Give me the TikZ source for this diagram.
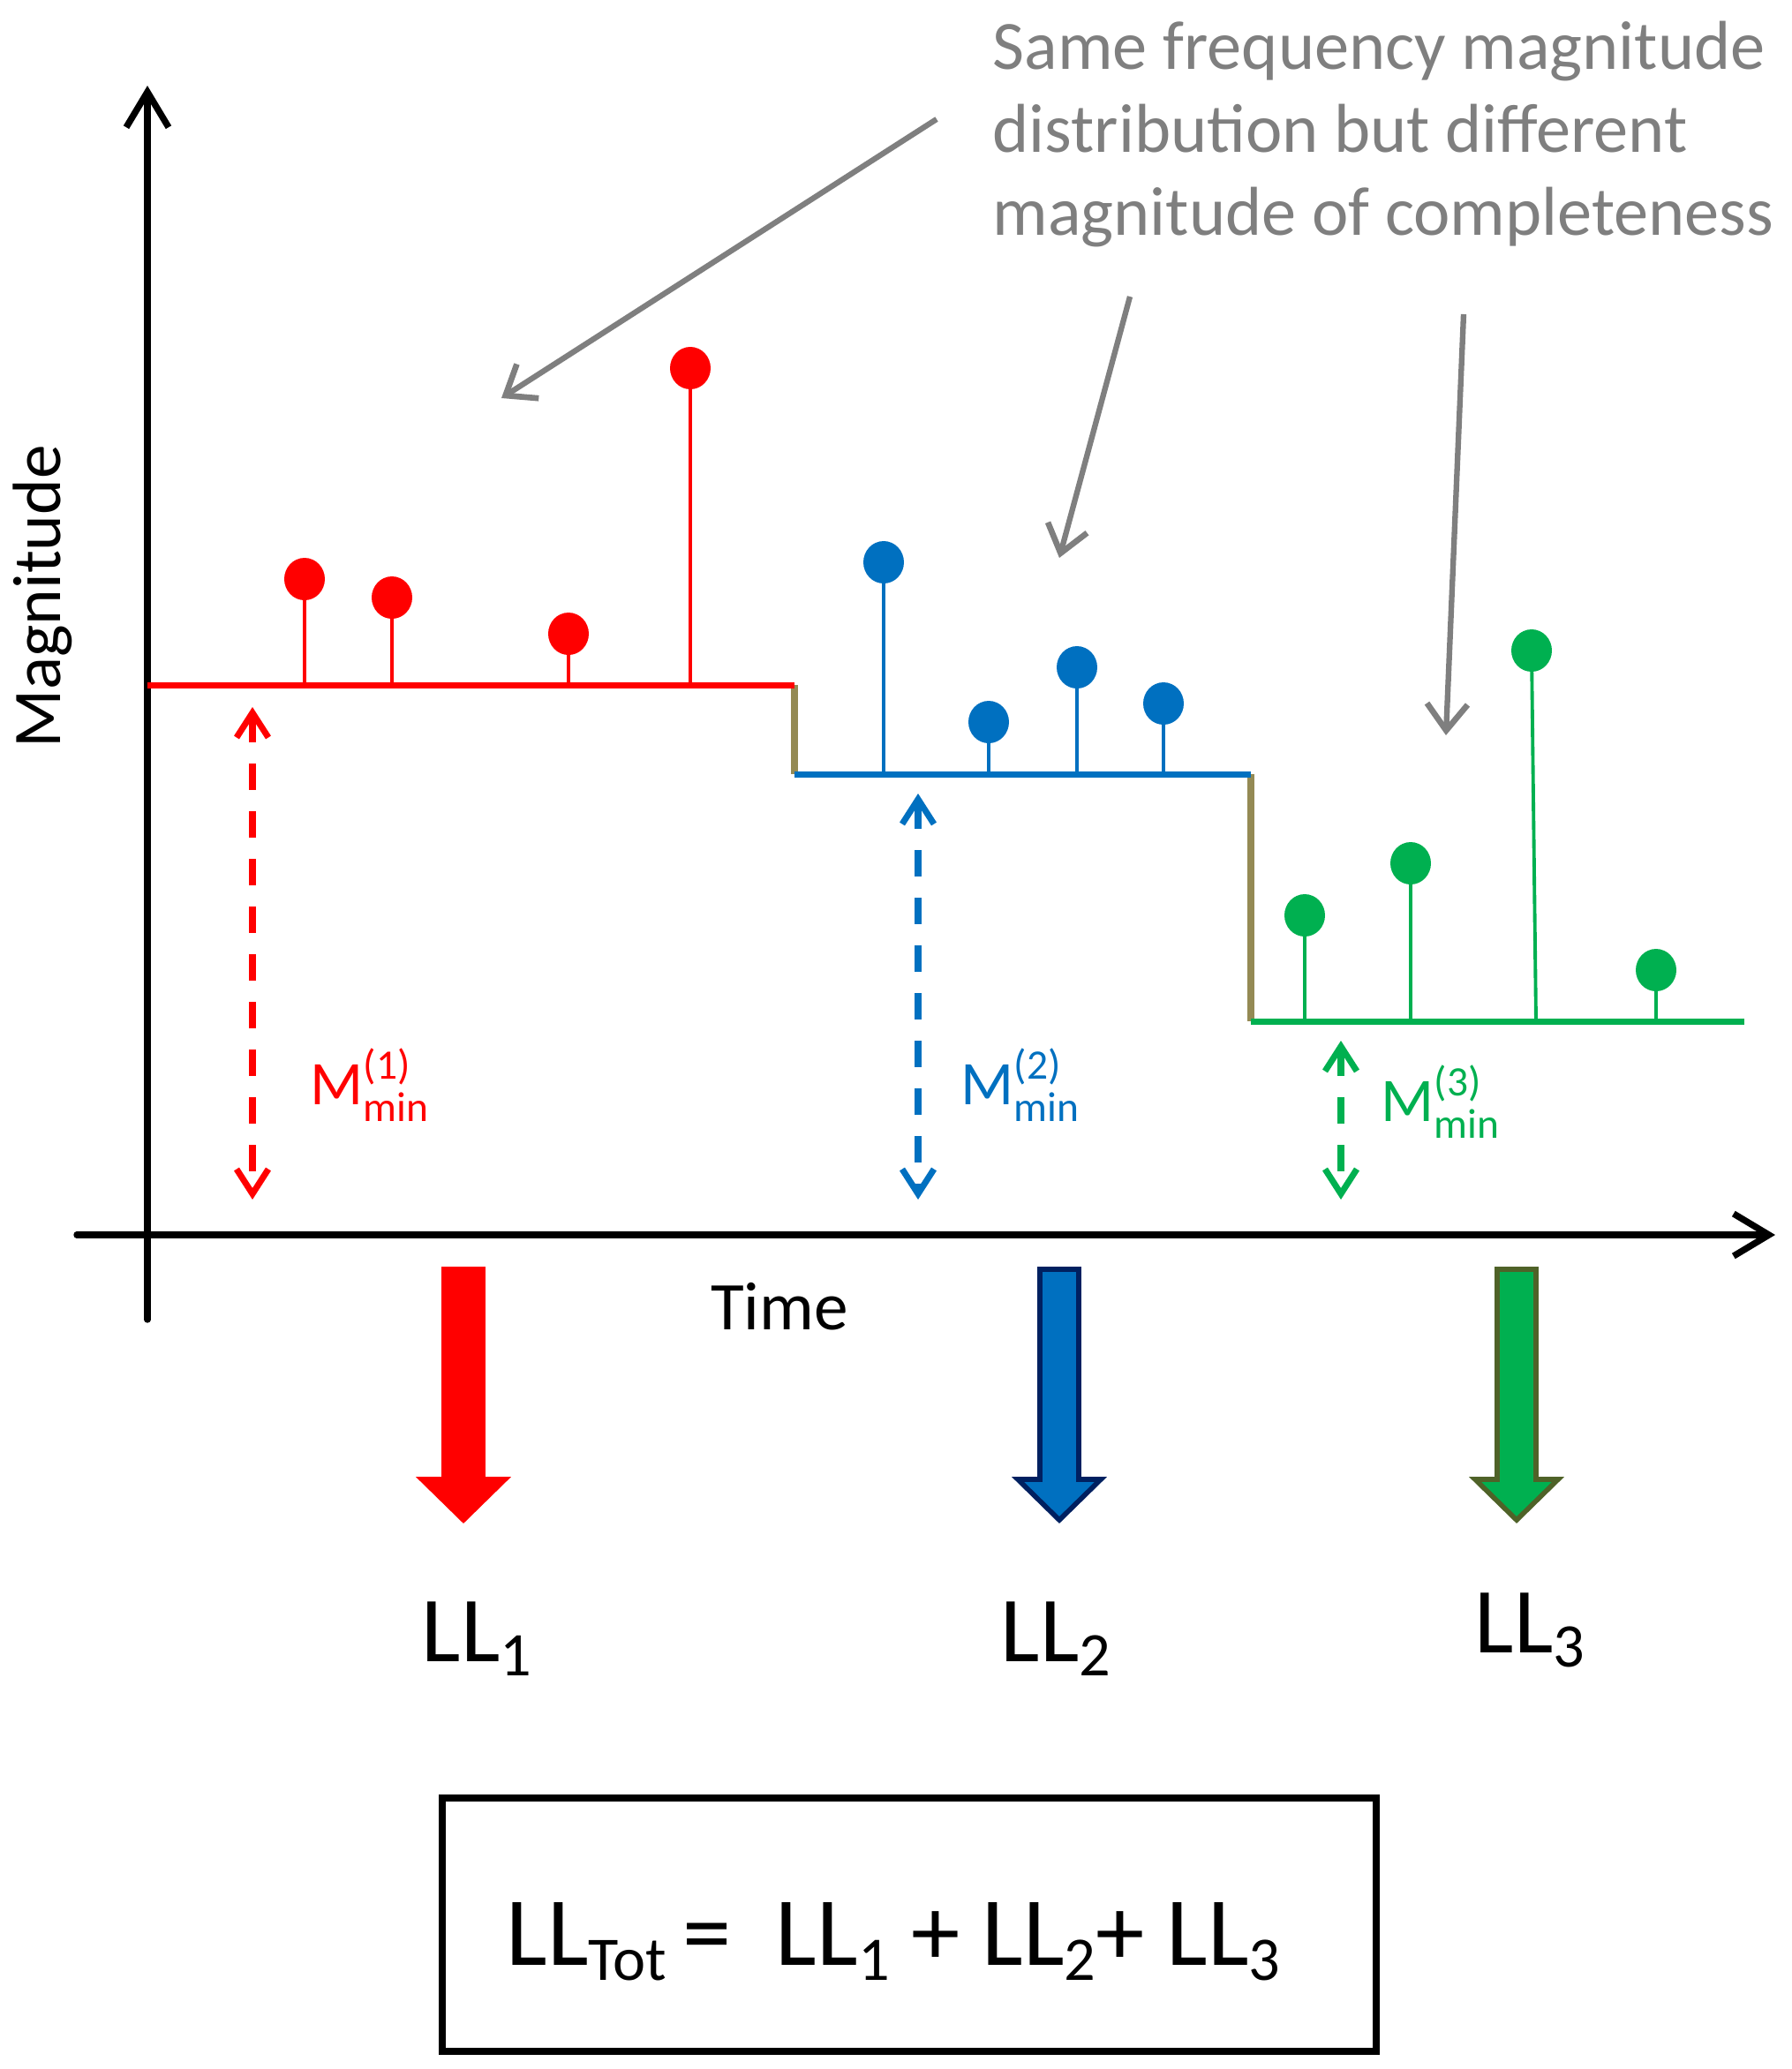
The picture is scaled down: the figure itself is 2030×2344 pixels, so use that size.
\documentclass[tikz,border=0pt]{standalone}
\usepackage{fontspec}
\setmainfont{Carlito}
\usetikzlibrary{arrows.meta}
\definecolor{cred}{HTML}{FF0000}
\definecolor{cblue}{HTML}{0070C0}
\definecolor{cgreen}{HTML}{00B050}
\definecolor{ctan}{HTML}{948A54}
\definecolor{cgray}{HTML}{7F7F7F}
\definecolor{cnavy}{HTML}{002060}
\definecolor{colive}{HTML}{4F6228}
\newcommand\mminlabel[1]{M\rlap{\raisebox{0.4em}{\fontsize{13.5}{14}\selectfont(#1)}}\raisebox{-0.27em}{\fontsize{13.5}{14}\selectfont min}}
\newcommand\llsub[1]{\raisebox{-0.16em}{\fontsize{20}{20}\selectfont #1}}
\newcommand\lollipop[4]{%
  \draw[#1,stemline] (#2,#3) -- (#2,#4);
  \fill[#1] (#2,#4) ellipse[x radius=2.3mm,y radius=2.4mm];}
\newcommand\fatarrow[3]{%
  \filldraw[fill=#2,draw=#3,line width=1.6pt,line join=miter]
  (#1-22,1438) -- (#1+22,1438) -- (#1+22,1676) -- (#1+47,1676) -- (#1,1722)
  -- (#1-47,1676) -- (#1-22,1676) -- cycle;}
\begin{document}
\begin{tikzpicture}[x=0.1mm,y=-0.1mm,
  axis/.style={line width=2.1pt,line cap=round,-{Straight Barb[length=4mm,width=4.8mm,line width=2.1pt]}},
  stepline/.style={line width=2pt},
  risel/.style={line width=2pt,ctan},
  stemline/.style={line width=1.1pt},
  dasharr/.style={line width=2.2pt,dash pattern=on 3mm off 2.4mm,
    {Straight Barb[length=2.8mm,width=3.6mm,line width=2pt]}-{Straight Barb[length=2.8mm,width=3.6mm,line width=2pt]}},
  grayarr/.style={cgray,line width=1.8pt,-{Straight Barb[length=3mm,width=4.6mm,line width=1.9pt]}},
  annot/.style={cgray,font=\fontsize{22.3}{26}\selectfont,anchor=base west,inner sep=0pt},
  mlab/.style={font=\fontsize{20}{24}\selectfont,anchor=base west,inner sep=0pt},
  lllab/.style={font=\fontsize{30}{36}\selectfont,anchor=base,inner sep=0pt},
  axlab/.style={font=\fontsize{22}{26}\selectfont,inner sep=0pt}]
\useasboundingbox (0,0) rectangle (2030,2344);

% axes
\coordinate (ybot) at (167,1495); \coordinate (ytop) at (167,97);
\coordinate (xleft) at (87,1399); \coordinate (xright) at (2011,1399);
\draw[axis] (ybot) -- (ytop);
\draw[axis] (xleft) -- (xright);
\node[axlab,rotate=90] (maglab) at (48,676) {Magnitude};
\node[axlab] (timelab) at (883,1480) {Time};

% step function
\coordinate (r0) at (167,776); \coordinate (r1) at (900,776);
\coordinate (b0) at (900,877); \coordinate (b1) at (1417,877);
\coordinate (g0) at (1417,1157); \coordinate (g1) at (1976,1157);
\draw[risel] (r1) -- (b0);
\draw[risel] (b1) -- (g0);
\draw[stepline,cred] (r0) -- (r1);
\draw[stepline,cblue] (b0) -- (b1);
\draw[stepline,cgreen] (g0) -- (g1);

% events
\lollipop{cred}{345}{776}{656}
\lollipop{cred}{444}{776}{677}
\lollipop{cred}{644}{776}{718}
\lollipop{cred}{782}{776}{417}
\lollipop{cblue}{1001}{877}{637}
\lollipop{cblue}{1120}{877}{818}
\lollipop{cblue}{1220}{877}{756}
\lollipop{cblue}{1318}{877}{797}
\lollipop{cgreen}{1478}{1157}{1037}
\lollipop{cgreen}{1598}{1157}{978}
\draw[cgreen,stemline] (1740,1157) -- (1735,737);
\fill[cgreen] (1735,737) ellipse[x radius=2.3mm,y radius=2.4mm];
\lollipop{cgreen}{1876}{1157}{1099}

% Mmin arrows
\coordinate (m1t) at (286,801); \coordinate (m1b) at (286,1359);
\coordinate (m2t) at (1040,899); \coordinate (m2b) at (1040,1359);
\coordinate (m3t) at (1519,1179); \coordinate (m3b) at (1519,1359);
\draw[dasharr,cred] (m1t) -- (m1b);
\draw[dasharr,cblue] (m2t) -- (m2b);
\draw[dasharr,cgreen] (m3t) -- (m3b);
\node[mlab,cred] (mm1) at (351,1251) {\mminlabel{1}};
\node[mlab,cblue] (mm2) at (1088,1251) {\mminlabel{2}};
\node[mlab,cgreen] (mm3) at (1564,1270) {\mminlabel{3}};

% annotation
\node[annot] (t1) at (1124,78) {Same frequency magnitude};
\node[annot] (t2) at (1124,172) {distribution but different};
\node[annot] (t3) at (1124,266) {magnitude of completeness};
\coordinate (a1s) at (1061,135); \coordinate (a1e) at (568,451);
\coordinate (a2s) at (1280,336); \coordinate (a2e) at (1200,632);
\coordinate (a3s) at (1658,356); \coordinate (a3e) at (1638,833);
\draw[grayarr] (a1s) -- (a1e);
\draw[grayarr] (a2s) -- (a2e);
\draw[grayarr] (a3s) -- (a3e);

% fat arrows
\fatarrow{525}{cred}{cred}
\fatarrow{1200}{cblue}{cnavy}
\fatarrow{1718}{cgreen}{colive}

% LL labels
\node[lllab] (ll1) at (540,1882) {LL\llsub{1}};
\node[lllab] (ll2) at (1196,1882) {LL\llsub{2}};
\node[lllab] (ll3) at (1733,1872) {LL\llsub{3}};

% total box
\node[draw,line width=2.1pt,minimum width=105.8mm,minimum height=28.7mm,inner sep=0pt]
  (totbox) at (1030,2180.5) {};
\node[font=\fontsize{31.5}{36}\selectfont,anchor=base,inner sep=0pt] (tot) at (1012,2226)
  {LL\llsub{Tot}\,=\ \ LL\llsub{1} + LL\llsub{2}+ LL\llsub{3}};
\end{tikzpicture}
\end{document}
